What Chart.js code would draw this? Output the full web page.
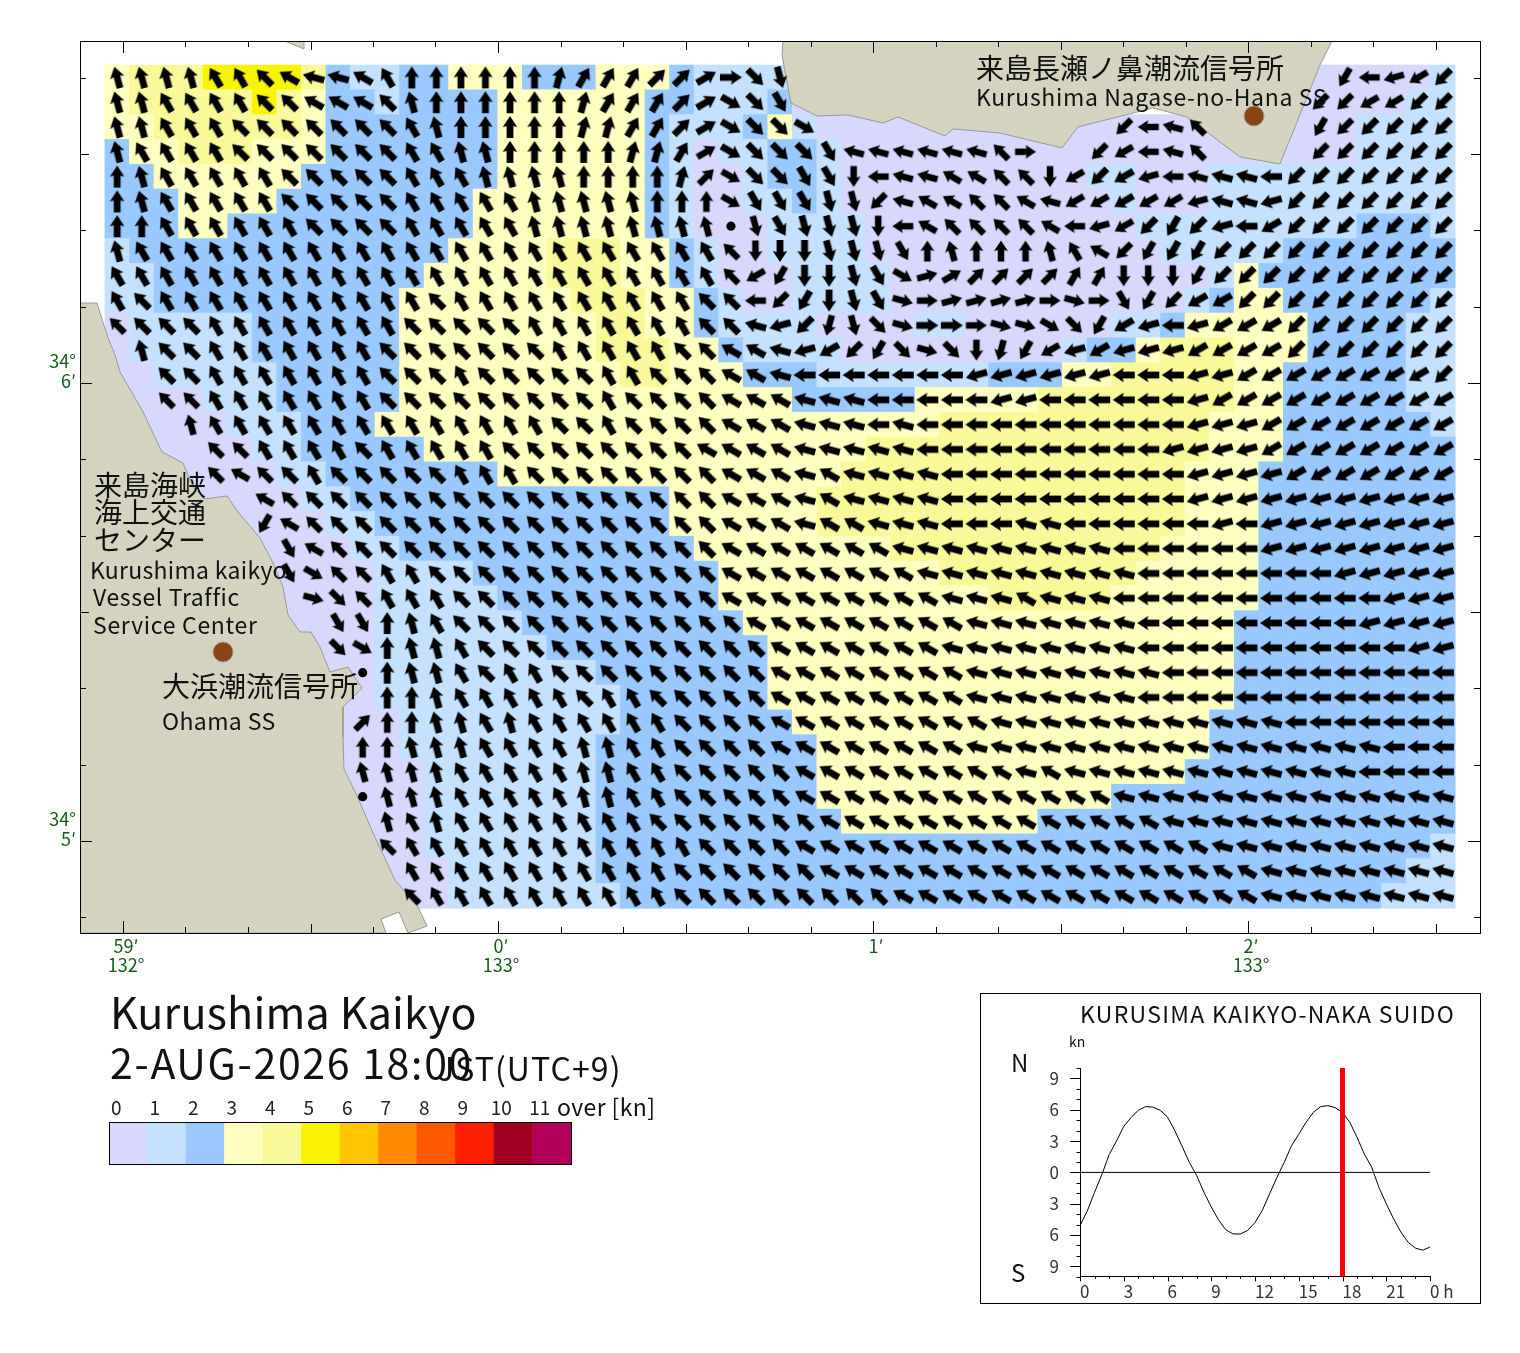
<!DOCTYPE html>
<html lang="ja">
<head>
<meta charset="UTF-8">
<title>Kurushima Kaikyo</title>
<script src="https://cdn.jsdelivr.net/npm/chart.js"></script>
<style>
  * { margin: 0; padding: 0; box-sizing: border-box; }
  body { background: #fff; width: 1520px; height: 1353px; position: relative; overflow: hidden;
         font-family: 'Noto Sans CJK JP', sans-serif; color: #111; }
  canvas { position: absolute; }
  .t { position: absolute; white-space: nowrap; line-height: 1; }
  #tideBox { position: absolute; left: 980px; top: 993px; width: 501px; height: 311px; border: 1px solid #000; }
</style>
</head>
<body>
<canvas id="mapChart" width="1520" height="985" style="left:0;top:0"></canvas>
<canvas id="barChart" width="480" height="80" style="left:100px;top:1090px"></canvas>
<div id="tideBox"></div>
<canvas id="tideChart" width="498" height="314" style="left:981px;top:994px"></canvas>

<div class="t" style="left:976px;top:53px;font-size:28px">来島長瀬ノ鼻潮流信号所</div>
<div class="t" style="left:976px;top:85px;font-size:23px;letter-spacing:0.65px">Kurushima Nagase-no-Hana SS</div>
<div class="t" style="left:94px;top:470px;font-size:28px">来島海峡</div>
<div class="t" style="left:94px;top:497px;font-size:28px">海上交通</div>
<div class="t" style="left:94px;top:525px;font-size:28px">センター</div>
<div class="t" style="left:90px;top:558px;font-size:23px;letter-spacing:0.3px">Kurushima kaikyo</div>
<div class="t" style="left:93px;top:585px;font-size:23px;letter-spacing:0.6px">Vessel Traffic</div>
<div class="t" style="left:93px;top:613px;font-size:23px;letter-spacing:0.7px">Service Center</div>
<div class="t" style="left:162px;top:671px;font-size:28px">大浜潮流信号所</div>
<div class="t" style="left:162px;top:709px;font-size:23px;letter-spacing:0.4px">Ohama SS</div>

<div class="t" style="left:110px;top:989px;font-size:43px;letter-spacing:0.2px">Kurushima Kaikyo</div>
<div class="t" style="left:110px;top:1041px;font-size:41px;letter-spacing:1.7px">2-AUG-2026 18:00</div>
<div class="t" style="left:437px;top:1051px;font-size:32px;letter-spacing:1.1px">JST(UTC+9)</div>
<div class="t" style="left:557px;top:1095px;font-size:23px;letter-spacing:0.4px">over [kn]</div>

<div class="t" style="left:1080px;top:1002px;font-size:23px;letter-spacing:1.3px">KURUSIMA KAIKYO-NAKA SUIDO</div>
<div class="t" style="left:1069px;top:1034px;font-size:14px">kn</div>
<div class="t" style="left:1011px;top:1050px;font-size:24px">N</div>
<div class="t" style="left:1011px;top:1260px;font-size:24px">S</div>

<script>
// current speed class per grid cell, one row per latitude, north to south ('.' = no cell)
const speedRows = [
  "34445 55542 11223 33222 33321 111.. ..... ..... ..... ....0 00001",
  "34444 45432 21222 23333 33221 11200 0.... ..... ..... ...00 00011",
  "33444 44432 22222 23333 33211 12310 00000 00000 00000 00000 01111",
  "23344 43332 22222 23333 33210 11221 00000 00000 00000 00000 01111",
  "22333 33322 22222 23333 33210 01221 00000 00000 11000 11111 11111",
  "22233 33222 22222 33333 33210 01121 00000 00000 01000 11111 11111",
  "22233 22222 22222 33333 33210 00111 10000 00000 00111 11111 12221",
  "12222 22222 22223 33344 43321 00111 10000 00000 00011 11122 22222",
  "11222 22222 22233 33344 43321 00011 11000 00000 00000 13222 22222",
  "11222 22222 22333 33334 44332 10011 11000 00000 00001 23322 22221",
  "01111 12222 22333 33333 44332 11110 00011 00000 01123 33332 22211",
  "01111 12222 22333 33333 44433 21111 00000 00001 22344 43332 22211",
  "00111 11222 22333 33333 34433 32221 11111 12223 34444 43322 22211",
  "00001 11222 22333 33333 33333 33322 22233 33344 44444 43322 22211",
  "00000 11122 23333 33333 33333 33333 33334 44444 44444 33322 22221",
  "00000 01122 22233 33333 33333 33333 34444 44444 44444 33322 22222",
  "00000 00112 22222 23333 33333 33333 44444 44444 44443 33222 22222",
  "00000 00011 22222 22222 22233 33334 44444 44444 44443 33222 22222",
  "00000 00001 12222 22222 22233 33334 44444 44444 44443 33222 22222",
  "00000 00000 11222 22222 22223 33333 33444 44444 44433 33222 22222",
  "00000 00000 01111 22222 22222 33333 33334 44444 44333 33222 22222",
  "00000 00000 01111 12222 22222 33333 33333 34444 43333 33222 22222",
  "00000 00000 01111 11222 22222 23333 33333 33333 33333 32222 22222",
  "00000 00000 01111 11122 22222 22333 33333 33333 33333 32222 22222",
  "00000 00000 01111 11111 22222 22333 33333 33333 33333 32222 22222",
  "00000 00000 01111 11111 12222 22333 33333 33333 33333 32222 22222",
  "00000 00000 00111 11111 12222 22233 33333 33333 33333 22222 22222",
  "00000 00000 00111 11111 22222 22223 33333 33333 33333 22222 22222",
  "00000 00000 00011 11111 22222 22223 33333 33333 33332 22222 22222",
  "00000 00000 00011 11111 22222 22223 33333 33333 32222 22222 22222",
  "00000 00000 00011 11111 22222 22222 33333 33322 22222 22222 22222",
  "00000 00000 00011 11111 22222 22222 22222 22222 22222 22222 22221",
  "00000 00000 00001 11111 22222 22222 22222 22222 22222 22222 22211",
  "00000 00000 00001 11111 12222 22222 22222 22222 22222 22222 22111"
];

// flow heading per cell in base 24, 15 degree steps clockwise from north
// ('.' = no arrow, '*' = slack water dot)
const headingRows = [
  "nnnnm mlkjj km000 00012 22334 69b.. ..... ..... ..... ..... eihgf",
  "nnmmm mllkk kln00 00001 22234 89a.. ..... ..... ..... ....f fggff",
  "nnmmm lllll llmn0 00001 12234 8998. ..... ..... .fijl ....e fffff",
  "nmmmm lllll llmmn n0000 01124 8999a jjjjj jl6.. fgijl ....f fffff",
  "0nmmm mmlll llmmm nnnn0 00013 899aa cijjk kllcg fghij jjiff fffff",
  "0nmmm mmlll llmmm mmnnn nn000 8aaab bfjkk llkjg ggggh jjhff fffff",
  "00mmm mmmll llmmm mmnnn nnnnn *babb bcikl lllki hgfef higff fffff",
  "nmmmm mmmmm mmmmm mmmmm mmmmm lcccb bba0n 000nm kfeee fffff fffff",
  "mmmmm mmmmm mmmmm mmmmm mmmmm lgecc ba854 33332 2ccce fffff fffff",
  "mlmmm mmmmm mmmlm mmmmm mmmml lifec ba765 55567 6aefg gffff fffff",
  "llllm mmmmm mmlll llmmm mmmml ljhfd b9766 67789 eghih gggff fffff",
  ".nllm mmmmm mllll lllmm mmmll kkjhg fe979 cdegh ghhhg gggff fffff",
  "..llm mmmmm mlllm lllll mmlll kkjii iiiii hhhhh hiiih hgggg ggggf",
  "..llm mmmmm mllll lllll mllll kkkjj jiiii ihhii iiiih ggggg ggggg",
  "...nm mmmmm mmmmm mmmll mllll kkkjj jijii iiiii iiiih hhggg ggggg",
  "....l lmmmm lmmmm mllll llllk kkkjj jjjii iiiii iiihh hhggg ggggg",
  "....l kllml llllm mmlll lllll kkkjk jjjji iiiii iiiih hhhgg ggggg",
  "..... .klll lllll lllll lllll kkkjk jjjji iiiii iiiih hhhhh hhhhh",
  "..... .ekll lllll lllll lllll kkkjk kjjji iijji iiiii hihhh hhhhh",
  "..... ..akl lllll lllll lllll kkkkk kkjjj jjjjj jiiii iihhh hhhhh",
  "..... ..a8l lmmll lllll lllll kkkkk kkkjj jjjjj jjiii iiiii hhhhh",
  "..... ...79 lmmml lllll lllll kkkkk kkkkj jjkjj jiiii iiiii iihhh",
  "..... ....a a0nml lllll lllll lkkkk kkkkk jjjjj jjiii iiiii ihhhh",
  "..... ....9 80nnm lllll lllll llkkk kkkkj jjjjj jjiii iiiii iiihh",
  "..... ..... *0nnm lmmll lllll llkkk kkkkk jjjjj jjjii iiiii iiiii",
  "..... ..... .00nm mmmml mmlll llkkk kkkkk jjjjj jjiii iiiii iiiii",
  "..... ..... 300nn mnmmm mmmll llkkk kkkkk kjjjj jjjjj jjjii iiiii",
  "..... ..... 00nnn mmmmn nmmll llkkk kkkkk jjjjj jjjjj jjjjj jjiii",
  "..... ..... nnnnm mmmmn nmmll lllkk kkkkk kkjkj jjjjj jjjjj jiiii",
  "..... ..... *nnnm mmmmn nmmll lllkk kkkkk kkkkk kjjjj jjjjj jjjjj",
  "..... ..... .nmnm mmmmm mmlll llllk kkkkk kkkkk kkkjj jjjjj jjjjj",
  "..... ..... .lmmm mmmmm mmmml lllkk kkkkk kkkkk kkkkk jjjjj jjjjj",
  "..... ..... ..mmm mmmmm mmmll llllk kkkkk kkkkk kkkkk kkjjj jjjjj",
  "..... ..... ..lmm mmmmm mmmll lllll llkkk kkkkk kkkkk kkjjj jjjjj"
];

// grid origin and spacing, seconds of arc from 133d00m E / 34d06m N
const gridLon0 = -60.93, gridDLon = 3.928;
const gridLat0 = 40.03, gridDLat = 3.249;

const speedLabels = ['0', '1', '2', '3', '4', '5', '6', '7', '8', '9', '10', '11'];
const speedColors = ['#d8d8ff', '#c4e1ff', '#99c9ff', '#ffffbf', '#f9f99a', '#f9f500',
                     '#ffc500', '#ff8a00', '#ff5a00', '#ff1e00', '#a00020', '#b00058'];

// coast outlines as [lon", lat"]
const coastWest = [[-66.88,10.48],[-64.16,10.48],[-62.4,5.9],[-61.28,3.67],[-60.48,1.44],[-56.96,-3.54],
  [-53.76,-9.04],[-50.4,-10.48],[-48.8,-13.63],[-46.88,-15.2],[-43.36,-14.8],[-41.6,-16.9],[-38.08,-20.31],
  [-36,-23.58],[-34.4,-26.73],[-33.6,-30.39],[-31.68,-32.62],[-29.92,-32.62],[-28.48,-34.59],[-26.88,-37.86],
  [-24,-37.21],[-21.76,-39.96],[-24.8,-42.45],[-24.8,-46.38],[-24.64,-50.57],[-22.4,-54.37],[-20,-58.95],
  [-16.48,-65.11],[-12.8,-68.65],[-11.36,-71.14],[-14.4,-72.05],[-15.84,-69.3],[-18.72,-70.22],[-17.92,-72.05],
  [-66.88,-72.05],[-66.88,10.48]];
const coastNorth = [[45.6,44.8],[45.44,42.97],[45.92,40.74],[46.88,36.68],[51.04,34.98],[56,35.11],[61.6,34.06],
  [64,34.85],[71.52,32.36],[72.8,33.28],[80.32,32.75],[90.24,30.79],[92.8,33.54],[104.8,36.03],[110.24,34.85],
  [118.72,29.61],[125.12,28.69],[131.52,41.66],[133.44,44.8],[45.6,44.8]];
const coastIslet = [[-34.08,44.8],[-31.04,43.76],[-31.04,44.8],[-34.08,44.8]];
const stations = [[120.96,34.98],[-44,-35.24]];

const lonTicks = [-60,-50,-40,-30,-20,-10,0,10,20,30,40,50,60,70,80,90,100,110,120,130,140,150];
const latTicks = [40,30,20,10,0,-10,-20,-30,-40,-50,-60,-70];
const lonLabels = { '-60': ['59′', '132°'], '0': ['0′', '133°'], '60': ['1′'], '120': ['2′', '133°'] };
const latLabels = { '0': ['34°', '6′'], '-60': ['34°', '5′'] };

// tidal current at the Naka Suido, half hour steps
const tideHours = [0,0.5,1,1.5,2,2.5,3,3.5,4,4.5,5,5.5,6,6.5,7,7.5,8,8.5,9,9.5,10,10.5,11,11.5,12,12.5,13,13.5,14,14.5,
                   15,15.5,16,16.5,17,17.5,18,18.5,19,19.5,20,20.5,21,21.5,22,22.5,23,23.5,24];
const tideKnots = [-5.1,-3.7,-1.9,-0.2,1.7,3.0,4.4,5.25,5.95,6.3,6.25,5.95,5.3,4.0,2.5,0.95,-0.3,-1.9,-3.3,-4.55,-5.5,-5.9,-5.9,-5.55,-4.8,-3.65,
                   -2.05,-0.5,0.95,2.55,3.65,4.8,5.75,6.3,6.4,6.2,5.75,4.8,3.35,1.75,0.5,-1.45,-3.0,-4.45,-5.7,-6.7,-7.25,-7.45,-7.15];
const nowHour = 18;
const tideXTicks = [0,3,6,9,12,15,18,21,24];
const tideYTicks = [9,6,3,0,-3,-6,-9];
const tideXLabels = ['0','3','6','9','12','15','18','21','0 h'];

const sansFont = "'Noto Sans CJK JP', sans-serif";

// arrow icon, pointing north, for pointStyle
function makeArrow(len) {
  const c = document.createElement('canvas');
  c.width = c.height = 30;
  const g = c.getContext('2d');
  const half = len / 2, headLen = len * 0.5, headW = len * 0.33, shaft = len * 0.155;
  g.translate(15, 15);
  g.fillStyle = '#000';
  g.beginPath();
  g.moveTo(0, -half);
  g.lineTo(headW, -half + headLen);
  g.lineTo(shaft, -half + headLen - 1);
  g.lineTo(shaft, half);
  g.lineTo(-shaft, half);
  g.lineTo(-shaft, -half + headLen - 1);
  g.lineTo(-headW, -half + headLen);
  g.closePath();
  g.fill();
  return c;
}
const smallArrow = makeArrow(21), bigArrow = makeArrow(22);

// build the cell and arrow lists
const cells = [], cellColors = [], arrows = [], arrowTurn = [], arrowIcon = [], slack = [];
speedRows.forEach((row, j) => {
  const speeds = row.replace(/ /g, '');
  const heads = headingRows[j].replace(/ /g, '');
  const lat = gridLat0 - j * gridDLat;
  for (let i = 0; i < speeds.length; i++) {
    const lon = gridLon0 + i * gridDLon;
    if (speeds[i] !== '.') {
      cells.push({ x: lon, y: [lat - gridDLat / 2, lat + gridDLat / 2] });
      cellColors.push(speedColors[+speeds[i]]);
    }
    if (heads[i] === '*') {
      slack.push({ x: lon, y: lat });
    } else if (heads[i] !== '.') {
      arrows.push({ x: lon, y: lat });
      arrowTurn.push(parseInt(heads[i], 24) * 15);
      arrowIcon.push(speeds[i] === '0' ? smallArrow : bigArrow);
    }
  }
});

const toPoints = list => list.map(p => ({ x: p[0], y: p[1] }));
const land = (list) => ({
  type: 'scatter', data: toPoints(list), showLine: true, fill: 'shape', order: 3,
  borderColor: '#9a9a94', borderWidth: 1, backgroundColor: '#d3d3bf', pointRadius: 0, tension: 0
});

// frame and inward tick marks, three lengths like the chart plotter draws them
const mapFrame = {
  id: 'mapFrame',
  afterDatasetsDraw(chart) {
    const { ctx, chartArea: a, scales: { x, y } } = chart;
    const len = v => (v % 60 === 0 ? 12 : v % 30 === 0 ? 9 : 6);
    ctx.save();
    ctx.strokeStyle = '#000';
    ctx.lineWidth = 1;
    ctx.beginPath();
    lonTicks.forEach(v => {
      const px = Math.round(x.getPixelForValue(v)) + 0.5;
      ctx.moveTo(px, a.top); ctx.lineTo(px, a.top + len(v));
      ctx.moveTo(px, a.bottom); ctx.lineTo(px, a.bottom - len(v));
    });
    latTicks.forEach(v => {
      const py = Math.round(y.getPixelForValue(v)) + 0.5;
      ctx.moveTo(a.left, py); ctx.lineTo(a.left + len(v), py);
      ctx.moveTo(a.right, py); ctx.lineTo(a.right - len(v), py);
    });
    ctx.stroke();
    ctx.strokeRect(Math.round(a.left) + 0.5, Math.round(a.top) + 0.5, Math.round(a.right - a.left), Math.round(a.bottom - a.top));
    ctx.restore();
  }
};

new Chart(document.getElementById('mapChart'), {
  type: 'scatter',
  data: {
    datasets: [
      { type: 'bar', data: cells, backgroundColor: cellColors, borderWidth: 0, barPercentage: 1, categoryPercentage: 1, order: 4 },
      land(coastWest), land(coastNorth), land(coastIslet),
      { data: arrows, pointStyle: arrowIcon, pointRotation: arrowTurn, pointRadius: 10, order: 2 },
      { data: slack, pointStyle: 'circle', pointRadius: 4.6, backgroundColor: '#000', borderWidth: 0, order: 2 },
      { data: toPoints(stations), pointStyle: 'circle', pointRadius: 10, backgroundColor: '#8b4513', borderColor: '#9a9a94', borderWidth: 1, order: 1 }
    ]
  },
  options: {
    responsive: false,
    animation: false,
    events: [],
    layout: { padding: { left: 0, top: 41, right: 40, bottom: 0 } },
    plugins: { legend: { display: false }, tooltip: { enabled: false } },
    scales: {
      x: {
        type: 'linear', min: -66.88, max: 157.12, offset: false,
        grid: { display: false, drawTicks: false }, border: { display: false },
        afterFit: s => { s.height = 52; },
        afterBuildTicks: s => { s.ticks = lonTicks.map(v => ({ value: v })); },
        ticks: {
          autoSkip: false, maxRotation: 0, minRotation: 0, padding: 3, labelOffset: 3, color: '#165c16',
          font: { family: sansFont, size: 18, lineHeight: 1.08 },
          callback: v => lonLabels[v] || ''
        }
      },
      y: {
        type: 'linear', min: -72.05, max: 44.8,
        grid: { display: false, drawTicks: false }, border: { display: false },
        afterFit: s => { s.width = 80; },
        afterBuildTicks: s => { s.ticks = latTicks.map(v => ({ value: v })); },
        ticks: {
          autoSkip: false, padding: 4, labelOffset: -12, color: '#165c16',
          font: { family: sansFont, size: 18, lineHeight: 1.08 },
          callback: v => latLabels[v] || ''
        }
      }
    }
  },
  plugins: [mapFrame]
});

// speed colour key
const keyFrame = {
  id: 'keyFrame',
  afterDatasetsDraw(chart) {
    const { ctx, chartArea: a } = chart;
    ctx.save();
    ctx.strokeStyle = '#000';
    ctx.strokeRect(Math.round(a.left) + 0.5, Math.round(a.top) + 0.5, Math.round(a.right - a.left), Math.round(a.bottom - a.top));
    ctx.restore();
  }
};
new Chart(document.getElementById('barChart'), {
  type: 'bar',
  data: {
    labels: speedLabels,
    datasets: [{ data: speedLabels.map(() => 1), backgroundColor: speedColors, borderWidth: 0, barPercentage: 1, categoryPercentage: 1 }]
  },
  options: {
    responsive: false,
    animation: false,
    events: [],
    layout: { padding: { left: 9, top: 0, right: 9, bottom: 6 } },
    plugins: { legend: { display: false }, tooltip: { enabled: false } },
    scales: {
      x: {
        position: 'top', grid: { display: false, drawTicks: false }, border: { display: false },
        afterFit: s => { s.height = 32; },
        ticks: { autoSkip: false, maxRotation: 0, minRotation: 0, padding: 3, labelOffset: -12, color: '#222', font: { family: sansFont, size: 19 } }
      },
      y: { display: false, min: 0, max: 1 }
    }
  },
  plugins: [keyFrame]
});

// tick marks of the tide graph, outside the axes
const tideTicks = {
  id: 'tideTicks',
  afterDatasetsDraw(chart) {
    const { ctx, chartArea: a, scales: { x, y } } = chart;
    ctx.save();
    ctx.strokeStyle = '#000';
    ctx.lineWidth = 1;
    ctx.beginPath();
    for (let h = 0; h <= 24; h++) {
      const px = Math.round(x.getPixelForValue(h)) + 0.5;
      ctx.moveTo(px, a.bottom); ctx.lineTo(px, a.bottom + (h % 3 === 0 ? 4.5 : 2));
    }
    for (let k = -10; k <= 10; k++) {
      const py = Math.round(y.getPixelForValue(k)) + 0.5;
      ctx.moveTo(a.left, py); ctx.lineTo(a.left - (k % 3 === 0 ? 10 : 3.5), py);
    }
    ctx.stroke();
    ctx.restore();
  }
};
new Chart(document.getElementById('tideChart'), {
  type: 'line',
  data: {
    datasets: [
      { data: tideHours.map((h, i) => ({ x: h, y: tideKnots[i] })), borderColor: '#000', borderWidth: 1, pointRadius: 0, tension: 0, order: 3 },
      { data: [{ x: 0, y: 0 }, { x: 24, y: 0 }], borderColor: '#000', borderWidth: 1, pointRadius: 0, order: 2 },
      { data: [{ x: nowHour, y: -10 }, { x: nowHour, y: 10 }], borderColor: '#ff0000', borderWidth: 5, pointRadius: 0, order: 1 }
    ]
  },
  options: {
    responsive: false,
    animation: false,
    events: [],
    layout: { padding: { left: 0, top: 74, right: 49, bottom: 0 } },
    plugins: { legend: { display: false }, tooltip: { enabled: false } },
    scales: {
      x: {
        type: 'linear', min: 0, max: 24,
        grid: { display: false, drawTicks: false }, border: { display: true, color: '#000' },
        afterFit: s => { s.height = 24; },
        afterBuildTicks: s => { s.ticks = tideXTicks.map(v => ({ value: v })); },
        ticks: {
          autoSkip: false, maxRotation: 0, minRotation: 0, align: 'start', padding: 5, color: '#333',
          font: { family: sansFont, size: 17 },
          callback: (v, i) => tideXLabels[i]
        }
      },
      y: {
        type: 'linear', min: -10, max: 10,
        grid: { display: false, drawTicks: false }, border: { display: true, color: '#000' },
        afterFit: s => { s.width = 99; },
        afterBuildTicks: s => { s.ticks = tideYTicks.map(v => ({ value: v })); },
        ticks: {
          autoSkip: false, padding: 21, color: '#333',
          font: { family: sansFont, size: 17 },
          callback: v => String(Math.abs(v))
        }
      }
    }
  },
  plugins: [tideTicks]
});
</script>
</body>
</html>
